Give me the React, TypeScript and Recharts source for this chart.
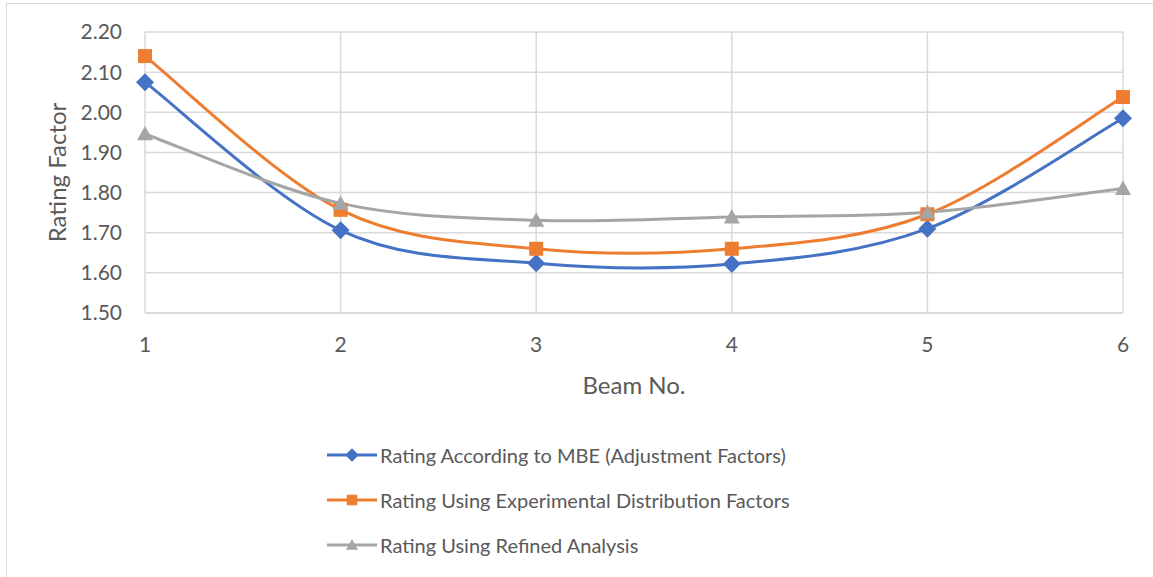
import React from "react";
import {
  LineChart,
  Line,
  XAxis,
  YAxis,
  CartesianGrid,
  Legend,
} from "recharts";

const beams = [1, 2, 3, 4, 5, 6];
const mbeRating = [2.075, 1.706, 1.624, 1.622, 1.71, 1.985];
const experimentalRating = [2.14, 1.757, 1.66, 1.66, 1.746, 2.038];
const refinedRating = [1.946, 1.773, 1.731, 1.739, 1.751, 1.81];
const yTicks = [1.5, 1.6, 1.7, 1.8, 1.9, 2.0, 2.1, 2.2];

const SERIES = [
  { key: "mbe", name: "Rating According to MBE (Adjustment Factors)", color: "#4472C4", shape: "diamond" },
  { key: "experimental", name: "Rating Using Experimental Distribution Factors", color: "#ED7D31", shape: "square" },
  { key: "refined", name: "Rating Using Refined Analysis", color: "#A5A5A5", shape: "triangle" },
];

const data = beams.map((b, i) => ({
  beam: b,
  mbe: mbeRating[i],
  experimental: experimentalRating[i],
  refined: refinedRating[i],
}));

const FONT = "Lato, 'Open Sans', sans-serif";
const TEXT = "#595959";
const GRID = "#D9D9D9";

// excel style smoothed line (catmull-rom as bezier)
const excelSmooth = (context: any) => {
  let pts: number[][] = [];
  return {
    areaStart() {},
    areaEnd() {},
    lineStart() {
      pts = [];
    },
    point(x: number, y: number) {
      pts.push([+x, +y]);
    },
    lineEnd() {
      if (!pts.length) return;
      context.moveTo(pts[0][0], pts[0][1]);
      for (let i = 0; i < pts.length - 1; i++) {
        const p0 = pts[Math.max(i - 1, 0)];
        const p1 = pts[i];
        const p2 = pts[i + 1];
        const p3 = pts[Math.min(i + 2, pts.length - 1)];
        context.bezierCurveTo(
          p1[0] + (p2[0] - p0[0]) / 6,
          p1[1] + (p2[1] - p0[1]) / 6,
          p2[0] - (p3[0] - p1[0]) / 6,
          p2[1] - (p3[1] - p1[1]) / 6,
          p2[0],
          p2[1]
        );
      }
    },
  };
};

function Marker({ shape, cx, cy, color, s = 1 }: any) {
  if (shape === "diamond") {
    const r = 9 * s;
    return (
      <polygon
        points={`${cx},${cy - r} ${cx + r},${cy} ${cx},${cy + r} ${cx - r},${cy}`}
        fill={color}
      />
    );
  }
  if (shape === "square") {
    const h = 7 * s;
    return <rect x={cx - h} y={cy - h} width={h * 2} height={h * 2} fill={color} />;
  }
  const h = 8 * s;
  return (
    <polygon
      points={`${cx},${cy - h} ${cx + h},${cy + h * 0.8} ${cx - h},${cy + h * 0.8}`}
      fill={color}
    />
  );
}

const makeDot = (shape: string, color: string) => (props: any) => (
  <Marker key={`${shape}-${props.index}`} shape={shape} cx={props.cx} cy={props.cy} color={color} />
);

const renderLegend = () => (
  <div style={{ fontFamily: FONT, fontSize: 20, color: TEXT }}>
    {SERIES.map((s) => (
      <div key={s.key} style={{ display: "flex", alignItems: "center", height: 45 }}>
        <svg width={50} height={20} style={{ marginRight: 3 }}>
          <line x1={0} y1={10} x2={50} y2={10} stroke={s.color} strokeWidth={3} />
          <Marker shape={s.shape} cx={25} cy={10} color={s.color} s={0.75} />
        </svg>
        <span>{s.name}</span>
      </div>
    ))}
  </div>
);

export default function App() {
  return (
    <div
      style={{
        position: "absolute",
        left: 0,
        top: 0,
        width: 1153,
        height: 577,
        overflow: "hidden",
        background: "#fff",
      }}
    >
      <div
        style={{
          position: "absolute",
          left: 6,
          top: 3,
          width: 1160,
          height: 600,
          border: `1px solid ${GRID}`,
        }}
      />
      <LineChart
        width={1153}
        height={577}
        data={data}
        margin={{ top: 32, right: 30, left: 0, bottom: 184 }}
      >
        <CartesianGrid stroke={GRID} strokeWidth={1.5} />
        <XAxis
          dataKey="beam"
          type="number"
          domain={[1, 6]}
          ticks={beams}
          height={80}
          axisLine={{ stroke: GRID, strokeWidth: 1.5 }}
          tickLine={false}
          tickSize={0}
          tickMargin={24}
          tick={{ fill: TEXT, fontSize: 21, fontFamily: FONT }}
          label={{
            content: ({ viewBox }: any) => (
              <text
                x={viewBox.x + viewBox.width / 2}
                y={viewBox.y + 71}
                textAnchor="middle"
                dominantBaseline="central"
                fill={TEXT}
                fontSize={24}
                fontFamily={FONT}
              >
                Beam No.
              </text>
            ),
          }}
        />
        <YAxis
          width={145}
          domain={[1.5, 2.2]}
          ticks={yTicks}
          axisLine={false}
          tickLine={false}
          tickSize={0}
          tickMargin={23}
          tickFormatter={(v: number) => v.toFixed(2)}
          tick={{ fill: TEXT, fontSize: 21, fontFamily: FONT }}
          label={{
            content: ({ viewBox }: any) => {
              const x = viewBox.x + 56;
              const y = viewBox.y + viewBox.height / 2;
              return (
                <text
                  x={x}
                  y={y}
                  transform={`rotate(-90, ${x}, ${y})`}
                  textAnchor="middle"
                  dominantBaseline="central"
                  fill={TEXT}
                  fontSize={24}
                  fontFamily={FONT}
                >
                  Rating Factor
                </text>
              );
            },
          }}
        />
        {SERIES.map((s) => (
          <Line
            key={s.key}
            dataKey={s.key}
            name={s.name}
            type={excelSmooth as any}
            stroke={s.color}
            strokeWidth={3}
            dot={makeDot(s.shape, s.color)}
            activeDot={false}
            isAnimationActive={false}
          />
        ))}
        <Legend
          layout="vertical"
          align="center"
          verticalAlign="middle"
          content={renderLegend}
          wrapperStyle={{ position: "absolute", left: 327, top: 432, width: "auto" }}
        />
      </LineChart>
    </div>
  );
}
